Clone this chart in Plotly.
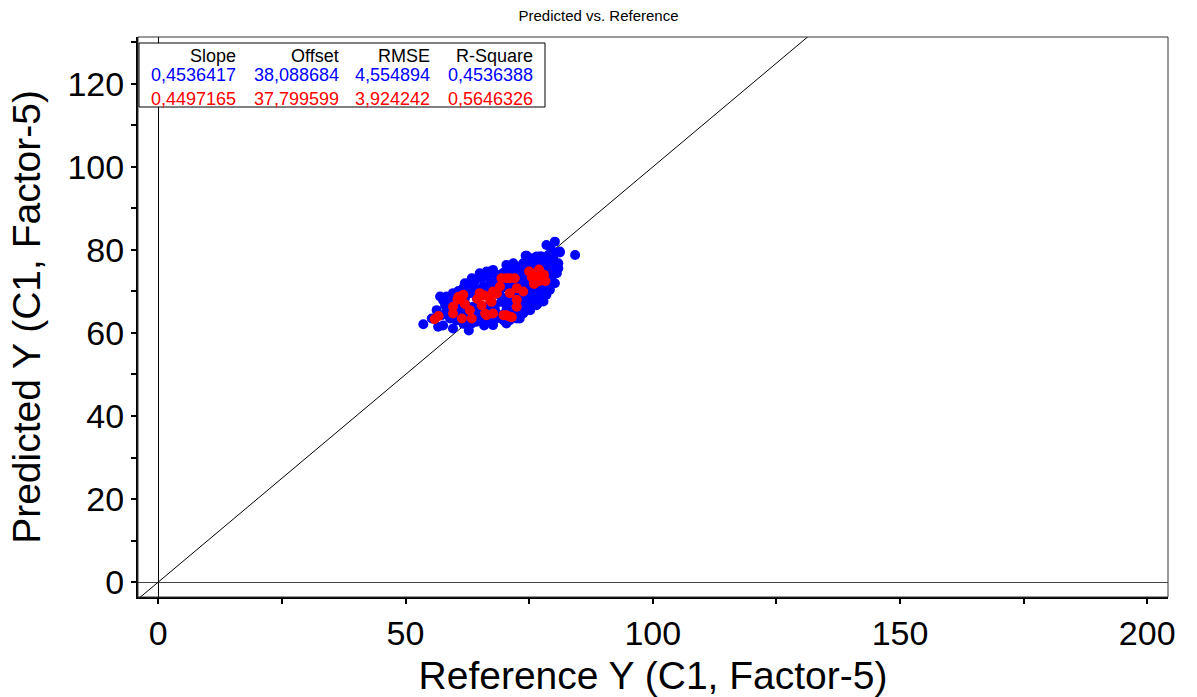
import plotly.graph_objects as go

# ---- data ----
blue_x = [53.6, 56.6, 57.6, 59.6, 62.8, 65.9, 84.3, 78.5, 80.2, 81.2, 74.3, 76.5, 77.5, 79.2, 80.6, 79.9, 80.6,
          79.5, 78.9, 78.5, 77.5, 76.5, 75.5, 74.5, 73.5, 72.5, 71.5, 69.8, 68.4, 67.1, 64.4, 63.4, 61.7, 60.3,
          59.0, 58.3, 57.6, 58.3, 59.6, 60.7, 61.7, 63.0, 64.0, 65.4, 66.7, 68.4, 69.8, 71.1, 72.5, 73.8, 75.5,
          77.2, 78.5, 78.2, 78.9, 77.9, 77.5, 76.2, 75.2, 74.2, 73.1, 72.1, 70.8, 69.1, 68.1, 66.7, 65.0, 63.7,
          62.3, 61.3, 60.3, 59.6, 59.0, 60.7, 62.0, 63.0, 64.4, 65.7, 67.1, 68.4, 69.8, 71.1, 72.8, 74.2, 75.5,
          76.9, 76.5, 75.5, 74.5, 73.5, 72.1, 70.8, 69.4, 68.1, 66.4, 65.0, 63.7, 62.3, 64.4, 65.7, 67.1, 68.4,
          69.8, 71.1, 72.5, 73.8, 75.2, 69.1, 70.4, 71.8, 73.1, 74.5, 75.8, 77.2, 79.5, 78.9, 61.0, 58.0, 57.0,
          62.0, 63.4, 65.0, 66.4, 67.7, 70.4, 71.8, 66.4, 67.7, 70.4, 72.8, 75.2, 76.5, 77.9, 79.2, 80.2, 80.9,
          77.9, 79.9, 56.3, 57.3, 55.3, 74.5, 75.8, 77.2, 81.2, 80.9, 76.8, 74.8, 73.8, 73.1, 70.4, 71.1]
blue_y = [62.1, 61.5, 61.8, 61.1, 60.6, 61.8, 78.8, 81.2, 82.0, 79.4, 78.6, 78.4, 78.4, 77.2, 76.8, 75.2, 74.4,
          72.8, 71.2, 69.2, 68.4, 68.8, 67.5, 66.3, 65.1, 63.5, 63.8, 63.1, 63.5, 63.1, 62.7, 62.3, 62.2, 63.0,
          63.5, 65.1, 67.9, 68.8, 69.6, 70.1, 70.8, 71.6, 72.4, 73.2, 73.6, 74.0, 74.5, 75.2, 76.0, 76.8, 77.2,
          76.8, 76.0, 74.4, 73.6, 72.0, 70.4, 70.0, 69.2, 68.0, 67.2, 65.5, 65.1, 64.3, 65.5, 65.1, 63.9, 64.3,
          63.9, 64.7, 65.1, 66.3, 67.5, 67.5, 68.3, 69.6, 70.4, 71.2, 72.0, 72.4, 72.8, 73.6, 74.4, 75.2, 75.6,
          75.2, 73.6, 72.8, 72.0, 71.2, 70.0, 68.8, 67.5, 66.7, 66.3, 65.9, 66.3, 66.7, 68.4, 69.2, 70.0, 70.8,
          71.2, 71.6, 72.4, 73.6, 74.4, 69.2, 66.7, 67.6, 68.8, 70.0, 71.2, 73.2, 80.0, 78.8, 65.9, 66.7, 68.8,
          72.0, 73.2, 74.4, 74.8, 75.2, 76.4, 76.8, 62.7, 61.9, 62.3, 64.3, 65.5, 66.7, 67.6, 70.4, 72.0, 75.6,
          77.6, 78.4, 65.5, 64.3, 63.5, 78.6, 78.0, 78.4, 79.6, 76.8, 67.2, 66.0, 64.7, 63.5, 65.5, 63.1]

red_x = [55.9, 56.7, 61.0, 61.7, 59.6, 59.6, 61.4, 63.4, 65.0, 65.4, 66.1, 67.7, 67.7, 69.1, 70.4, 69.8, 71.1,
         72.5, 72.5, 72.5, 73.8, 71.1, 71.1, 72.1, 75.5, 76.5, 77.5, 76.0, 77.0, 78.0, 77.0, 76.0, 78.3, 67.1,
         67.4, 62.0, 63.0, 64.5, 68.5, 70.4, 71.5, 60.5, 66.0, 75.0, 76.8, 60.7, 69.4, 66.4]
red_y = [63.3, 64.1, 68.4, 69.2, 66.3, 64.7, 63.5, 63.5, 69.6, 66.7, 64.7, 64.7, 70.0, 71.2, 73.2, 64.3, 63.9,
         68.0, 66.3, 70.8, 70.0, 69.6, 73.2, 73.2, 73.5, 74.5, 73.0, 72.0, 72.5, 74.0, 75.3, 71.8, 72.5, 68.0,
         67.5, 67.0, 65.5, 68.2, 69.5, 64.3, 63.8, 68.0, 69.0, 74.8, 73.8, 68.7, 73.2, 64.3]

target_line = [-10, 220]

stat_headers = ["Slope", "Offset", "RMSE", "R-Square"]
stats_blue = ["0,4536417", "38,088684", "4,554894", "0,4536388"]
stats_red = ["0,4497165", "37,799599", "3,924242", "0,5646326"]

x_ticks = [0, 50, 100, 150, 200]
y_ticks = [0, 20, 40, 60, 80, 100, 120]

FONT = "Liberation Sans, Arial, sans-serif"

fig = go.Figure()
fig.add_trace(go.Scatter(x=target_line, y=target_line, mode="lines",
                         line=dict(color="black", width=1), hoverinfo="skip", showlegend=False))
fig.add_trace(go.Scatter(x=blue_x, y=blue_y, mode="markers",
                         marker=dict(color="#0000ff", size=10, line=dict(width=0)), showlegend=False))
fig.add_trace(go.Scatter(x=red_x, y=red_y, mode="markers",
                         marker=dict(color="#ff0000", size=10, line=dict(width=0)), showlegend=False))

L, R, T, B = 138, 1168, 37, 597
W, H = 1197, 697

fig.update_layout(
    width=W, height=H,
    margin=dict(l=L, r=W - R, t=T, b=H - B),
    paper_bgcolor="white", plot_bgcolor="white",
    font=dict(family=FONT, color="black"),
    title=dict(text="Predicted vs. Reference", x=0.5, xanchor="center", y=1 - 16 / H, yanchor="middle",
               font=dict(size=15, family=FONT, color="black")),
    xaxis=dict(range=[-4.1, 204.2], tickvals=x_ticks, ticks="outside", ticklen=5, tickwidth=1.5,
               tickcolor="black", showline=True, linecolor="black", linewidth=2, automargin=False,
               showgrid=False, zeroline=True, zerolinecolor="black", zerolinewidth=1,
               tickfont=dict(size=34, family=FONT, color="black"),
               minor=dict(dtick=25, tick0=0, ticks="outside", ticklen=5, tickwidth=1.5, tickcolor="black", showgrid=False),
               title=dict(text="Reference Y (C1, Factor-5)", font=dict(size=39, family=FONT, color="black"))),
    yaxis=dict(range=[-3.6, 131.3], tickvals=y_ticks, ticks="outside", ticklen=5, tickwidth=1.5,
               tickcolor="black", showline=True, linecolor="black", linewidth=2, automargin=False,
               showgrid=False, zeroline=True, zerolinecolor="#444444", zerolinewidth=1,
               tickfont=dict(size=34, family=FONT, color="black"),
               minor=dict(dtick=10, tick0=0, ticks="outside", ticklen=5, tickwidth=1.5, tickcolor="black", showgrid=False),
               title=dict(text="Predicted Y (C1, Factor-5)", font=dict(size=39, family=FONT, color="black"))),
)

# frame (top/right thin lines)
fig.add_shape(type="rect", xref="paper", yref="paper", x0=0, x1=1, y0=0, y1=1,
              line=dict(color="#333333", width=1), fillcolor="rgba(0,0,0,0)", layer="above")

def px(xp):
    return (xp - L) / (R - L)

def py(yp):
    return (B - yp) / (B - T)

# stats box
fig.add_shape(type="rect", xref="paper", yref="paper", x0=px(139), x1=px(545), y0=py(107), y1=py(43),
              line=dict(color="black", width=1), fillcolor="white", layer="above")

col_right = [238, 341, 432, 535]
rows = [(stat_headers, "black", 56), (stats_blue, "#0000ff", 75), (stats_red, "#ff0000", 99)]
for texts, color, yp in rows:
    for t, xr in zip(texts, col_right):
        fig.add_annotation(x=px(xr), y=py(yp), xref="paper", yref="paper", text=t, showarrow=False,
                           xanchor="right", yanchor="middle",
                           font=dict(size=18, family=FONT, color=color))

fig.write_html("out.html")
